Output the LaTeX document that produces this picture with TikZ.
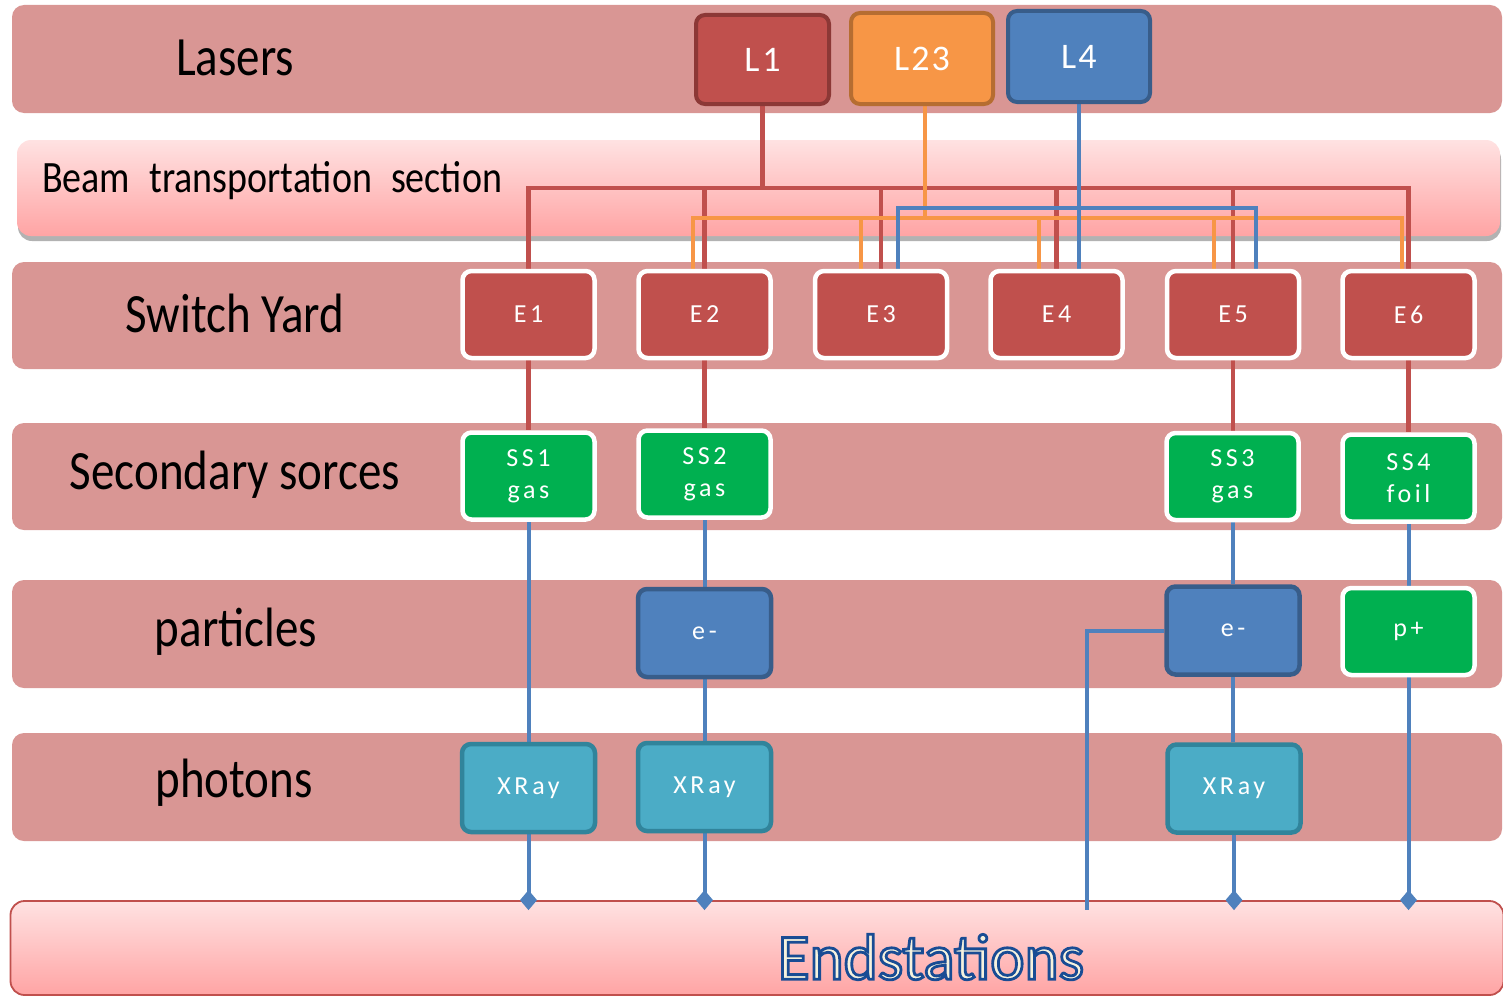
\documentclass[tikz,border=0pt]{standalone}
\usepackage{fontspec}
\setmainfont{Carlito}
\usepackage{graphicx}
\usetikzlibrary{calc,arrows.meta,shadows}
\pgfdeclarelayer{bands}
\pgfdeclarelayer{lines}
\pgfsetlayers{bands,lines,main}
\definecolor{bandc}{HTML}{D99694}
\definecolor{cred}{HTML}{C0504D}
\definecolor{credd}{HTML}{8C3836}
\definecolor{corg}{HTML}{F79646}
\definecolor{corgd}{HTML}{B66D31}
\definecolor{cblu}{HTML}{4F81BD}
\definecolor{cblud}{HTML}{385D8A}
\definecolor{cgrn}{HTML}{00B050}
\definecolor{cteal}{HTML}{4BACC6}
\definecolor{cteald}{HTML}{31849B}
\definecolor{pinkt}{HTML}{FFE2E2}
\definecolor{pinkb}{HTML}{FFA4A4}
\definecolor{escream}{HTML}{F6F2DE}
\newcommand{\vst}[1]{\scalebox{1}[1.18]{#1}}
\newcommand{\outlinedtext}[1]{\special{pdf:literal direct 2 Tr 2.8 w 0.10 0.30 0.58 RG}#1\special{pdf:literal direct 0 Tr 1 w}}
\tikzset{
  band/.style={fill=bandc, rounded corners=12pt, inner sep=0pt},
  gband/.style={top color=pinkt, bottom color=pinkb, rounded corners=14pt, inner sep=0pt},
  bandlabel/.style={font=\fontsize{47}{50}\selectfont, text=black, inner sep=0pt},
  laser/.style={rounded corners=9pt, line width=4pt, minimum width=133pt, minimum height=89pt, inner sep=0pt, text=white,
    font={\fontsize{36}{38}\selectfont\addfontfeature{LetterSpace=6}}},
  box/.style={rounded corners=9pt, line width=4.5pt, minimum width=132pt, minimum height=87pt, inner sep=0pt, text=white, align=center,
    font={\fontsize{26}{32}\selectfont\addfontfeature{LetterSpace=14}}},
  ebox/.style={box, fill=cred, draw=white},
  sbox/.style={box, fill=cgrn, draw=white},
  pbox/.style={box, fill=cblu, draw=cblud, minimum width=133pt, minimum height=88pt},
  xbox/.style={box, fill=cteal, draw=cteald, minimum width=133pt, minimum height=88pt},
  redline/.style={draw=cred, line width=4.5pt},
  orgline/.style={draw=corg, line width=4pt},
  bluline/.style={draw=cblu, line width=4pt},
  endtip/.style={-{Kite[length=20pt, width=17pt, inset=10pt]}, shorten >=-10pt}
}
\begin{document}
\begin{tikzpicture}[x=1pt,y=-1pt]
\useasboundingbox (0,0) rectangle (1503,998);
\clip (0,0) rectangle (1503,998);
\begin{pgfonlayer}{bands}
  \node[band, minimum width=1490pt, minimum height=108pt] (bLas) at (757,59) {};
  \node[gband, minimum width=1483pt, minimum height=96pt, drop shadow={shadow xshift=1pt, shadow yshift=-5pt, fill=black, opacity=0.3}] (bBeam) at (758.5,188) {};
  \node[band, minimum width=1490pt, minimum height=107pt] (bSY) at (757,315.5) {};
  \node[band, minimum width=1490pt, minimum height=107pt] (bSS) at (757,476.5) {};
  \node[band, minimum width=1490pt, minimum height=108pt] (bPa) at (757,634) {};
  \node[band, minimum width=1490pt, minimum height=108pt] (bPh) at (757,787) {};
  \node[gband, draw=cred, line width=1.8pt, minimum width=1493pt, minimum height=94pt] (ES) at (757,948) {};
\end{pgfonlayer}
% band labels
\node[bandlabel] (tLas) at (235,58) {\vst{Lasers}};
\node[bandlabel, anchor=west, font=\fontsize{38}{40}\selectfont] (tBeam) at (42,181) {\vst{Beam\hspace{0.5em}transportation\hspace{0.5em}section}};
\node[bandlabel] (tSY) at (235,313) {\vst{Switch Yard}};
\node[bandlabel] (tSS) at (235,475) {\vst{Secondary sorces}};
\node[bandlabel] (tPa) at (236,632) {\vst{particles}};
\node[bandlabel] (tPh) at (234,783) {\vst{photons}};
\node[inner sep=0pt, text=escream, font=\fontsize{65}{66}\selectfont] (tES) at (931,957) {\outlinedtext{Endstations}};
% lasers
\node[laser, fill=cred, draw=credd] (L1) at (762.5,59.5) {L\hspace{3pt}1};
\node[laser, fill=corg, draw=corgd, minimum width=142pt, minimum height=91pt] (L23) at (922,58.5) {L23};
\node[laser, fill=cblu, draw=cblud, minimum width=142pt, minimum height=91pt] (L4) at (1079,56.5) {L4};
% switch yard
\node[ebox] (E1) at (528.5,314.5) {E1};
\node[ebox] (E2) at (704.5,314.5) {E2};
\node[ebox] (E3) at (881,314.5) {E3};
\node[ebox] (E4) at (1056.5,314.5) {E4};
\node[ebox] (E5) at (1233,314.5) {E5};
\node[ebox] (E6) at (1408.5,314.5) {E6};
% secondary sources
\node[sbox] (SS1) at (528.5,476) {SS1\\gas};
\node[sbox] (SS2) at (704.5,474) {SS2\\gas};
\node[sbox] (SS3) at (1232.5,476.5) {SS3\\gas};
\node[sbox] (SS4) at (1408.5,478) {SS4\\foil};
% particles
\node[pbox] (ea) at (704.5,633) {e-};
\node[pbox] (eb) at (1233,630.5) {e-};
\node[sbox] (pp) at (1408.5,631.5) {p+};
% photons
\node[xbox] (X1) at (528.5,788) {XRay};
\node[xbox] (X2) at (704.5,787) {XRay};
\node[xbox] (X3) at (1234,788.5) {XRay};
\coordinate (rbus) at (0,188);
\coordinate (obus) at (0,218);
\coordinate (bbus) at (0,208);
\coordinate (efree) at (1087,910);
\begin{pgfonlayer}{lines}
  % red bus from L1
  \draw[redline] (L1.south) -- (L1.south |- rbus);
  \draw[redline] (E1.north) -- (E1.north |- rbus) -- (E6.north |- rbus) -- (E6.north);
  \draw[redline] (E2.north) -- (E2.north |- rbus);
  \draw[redline] (E3.north) -- (E3.north |- rbus);
  \draw[redline] (E4.north) -- (E4.north |- rbus);
  \draw[redline] (E5.north) -- (E5.north |- rbus);
  % orange bus from L23
  \draw[orgline] ($(L23.south)+(3,0)$) -- ($(L23.south |- obus)+(3,0)$);
  \draw[orgline] ($(E2.north)+(-12,0)$) -- ($(E2.north |- obus)+(-12,0)$) -- ($(E6.north |- obus)+(-7,0)$) -- ($(E6.north)+(-7,0)$);
  \draw[orgline] ($(E3.north)+(-20,0)$) -- ($(E3.north |- obus)+(-20,0)$);
  \draw[orgline] ($(E4.north)+(-18,0)$) -- ($(E4.north |- obus)+(-18,0)$);
  \draw[orgline] ($(E5.north)+(-19,0)$) -- ($(E5.north |- obus)+(-19,0)$);
  % blue bus from L4
  \draw[bluline] ($(E3.north)+(17,0)$) -- ($(E3.north |- bbus)+(17,0)$) -- ($(E5.north |- bbus)+(23,0)$) -- ($(E5.north)+(23,0)$);
  \draw[bluline] (L4.south) -- (L4.south |- E4.north);
  % switch yard to secondary sources
  \draw[redline] (E1.south) -- (E1.south |- SS1.north);
  \draw[redline] (E2.south) -- (E2.south |- SS2.north);
  \draw[redline] (E5.south) -- (E5.south |- SS3.north);
  \draw[redline] (E6.south) -- (E6.south |- SS4.north);
  % secondary sources onward
  \draw[bluline] (SS1.south) -- (SS1.south |- X1.north);
  \draw[bluline] (SS2.south) -- (SS2.south |- ea.north);
  \draw[bluline] (ea.south) -- (ea.south |- X2.north);
  \draw[bluline] (SS3.south) -- (SS3.south |- eb.north);
  \draw[bluline] (eb.south) -- (eb.south |- X3.north);
  \draw[bluline] (SS4.south) -- (SS4.south |- pp.north);
  \draw[bluline] (eb.west) -| (efree);
  % to endstations
  \draw[bluline, endtip] (X1.south) -- (X1.south |- ES.north);
  \draw[bluline, endtip] (X2.south) -- (X2.south |- ES.north);
  \draw[bluline, endtip] (X3.south) -- (X3.south |- ES.north);
  \draw[bluline, endtip] (pp.south) -- (pp.south |- ES.north);
\end{pgfonlayer}
\end{tikzpicture}
\end{document}
